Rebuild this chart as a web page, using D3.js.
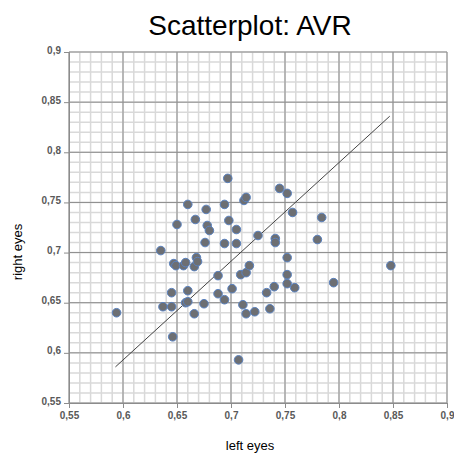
<!DOCTYPE html>
<html><head><meta charset="utf-8">
<script src="https://cdn.jsdelivr.net/npm/d3@7"></script>
<style>body{margin:0;background:#fff;}svg{display:block;}</style>
</head><body>
<svg id="c" width="454" height="457"></svg>
<script>
const leftEyes = [0.697,0.660,0.677,0.694,0.712,0.714,0.650,0.667,0.678,0.680,0.698,0.705,0.745,0.752,0.757,0.784,0.725,0.741,0.741,0.780,0.676,0.694,0.705,0.635,0.647,0.649,0.656,0.658,0.666,0.668,0.669,0.688,0.709,0.714,0.717,0.645,0.660,0.688,0.701,0.694,0.675,0.658,0.660,0.637,0.645,0.711,0.714,0.722,0.666,0.594,0.646,0.707,0.752,0.848,0.752,0.752,0.759,0.795,0.740,0.733,0.736];
const rightEyes = [0.774,0.748,0.743,0.748,0.752,0.755,0.728,0.733,0.727,0.722,0.732,0.723,0.764,0.759,0.740,0.735,0.717,0.714,0.710,0.713,0.710,0.709,0.709,0.702,0.689,0.687,0.687,0.690,0.686,0.695,0.691,0.677,0.678,0.680,0.687,0.660,0.662,0.659,0.664,0.653,0.649,0.650,0.651,0.646,0.646,0.648,0.639,0.641,0.639,0.640,0.616,0.593,0.695,0.687,0.678,0.669,0.665,0.670,0.666,0.660,0.644];
const lineX = [0.593, 0.847];
const lineY = [0.586, 0.836];
const majorTicks = [0.55,0.6,0.65,0.7,0.75,0.8,0.85,0.9];
const tickLabels = ["0,55","0,6","0,65","0,7","0,75","0,8","0,85","0,9"];
const minorTicks = d3.range(55, 91).map(v => v / 100);

const svg = d3.select("#c");
const L = 69, R = 447, T = 52, B = 403;
const x = d3.scaleLinear().domain([0.55, 0.9]).range([L, R]);
const y = d3.scaleLinear().domain([0.55, 0.9]).range([B, T]);

const g = svg.append("g");
g.selectAll(".mx").data(minorTicks).join("line")
  .attr("x1", d => x(d)).attr("x2", d => x(d)).attr("y1", T).attr("y2", B)
  .attr("stroke", "#d9d9d9").attr("stroke-width", 1.5);
g.selectAll(".my").data(minorTicks).join("line")
  .attr("y1", d => y(d)).attr("y2", d => y(d)).attr("x1", L).attr("x2", R)
  .attr("stroke", "#d9d9d9").attr("stroke-width", 1.5);
g.selectAll(".Mx").data(majorTicks).join("line")
  .attr("x1", d => x(d)).attr("x2", d => x(d)).attr("y1", T).attr("y2", B)
  .attr("stroke", "#8c8c8c").attr("stroke-width", 1);
g.selectAll(".My").data(majorTicks).join("line")
  .attr("y1", d => y(d)).attr("y2", d => y(d)).attr("x1", L).attr("x2", R)
  .attr("stroke", "#8c8c8c").attr("stroke-width", 1);

const fmt = d => tickLabels[majorTicks.findIndex(t => Math.abs(t - d) < 1e-9)];
const xa = svg.append("g").attr("transform", `translate(0,${B})`)
  .call(d3.axisBottom(x).tickValues(majorTicks).tickFormat(fmt).tickSize(5).tickPadding(4));
const ya = svg.append("g").attr("transform", `translate(${L},0)`)
  .call(d3.axisLeft(y).tickValues(majorTicks).tickFormat(fmt).tickSize(5).tickPadding(3));
[xa, ya].forEach(a => {
  a.selectAll("path").attr("stroke", "#8c8c8c");
  a.selectAll("line").attr("stroke", "#8c8c8c");
  a.selectAll("text").attr("font-family", "Liberation Sans, Arial, sans-serif")
    .attr("font-size", 10).attr("font-weight", "bold").attr("fill", "#595959");
});
ya.selectAll("text").attr("dy", "0.1em");

svg.append("line")
  .attr("x1", x(lineX[0])).attr("y1", y(lineY[0]))
  .attr("x2", x(lineX[1])).attr("y2", y(lineY[1]))
  .attr("stroke", "#444").attr("stroke-width", 1);

svg.append("g").selectAll("circle").data(leftEyes.map((v, i) => [v, rightEyes[i]])).join("circle")
  .attr("cx", d => x(d[0])).attr("cy", d => y(d[1])).attr("r", 4.3)
  .attr("fill", "#6d6f73").attr("stroke", "#5a82c0").attr("stroke-width", 1);

svg.append("text").attr("x", 250).attr("y", 35).attr("text-anchor", "middle")
  .attr("font-family", "Liberation Sans, Arial, sans-serif").attr("font-size", 28)
  .attr("fill", "#000").text("Scatterplot: AVR");
svg.append("text").attr("x", 250).attr("y", 450).attr("text-anchor", "middle")
  .attr("font-family", "Liberation Sans, Arial, sans-serif").attr("font-size", 13)
  .attr("fill", "#000").text("left eyes");
svg.append("text").attr("transform", "translate(22,252) rotate(-90)").attr("text-anchor", "middle")
  .attr("font-family", "Liberation Sans, Arial, sans-serif").attr("font-size", 13)
  .attr("fill", "#000").text("right eyes");
</script>
</body></html>
